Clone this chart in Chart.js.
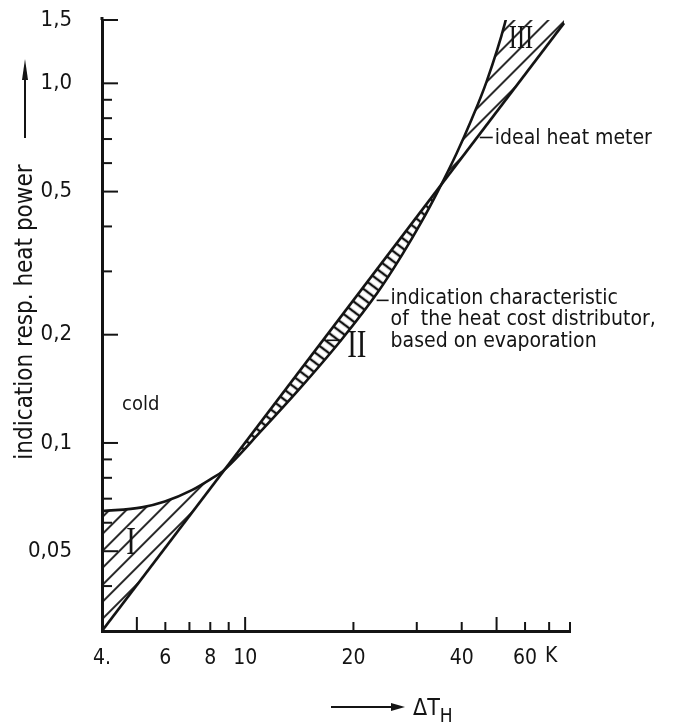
<!DOCTYPE html>
<html lang="en">
<head>
<meta charset="UTF-8">
<title>Heat cost distributor characteristic</title>
<script src="https://cdn.jsdelivr.net/npm/chart.js"></script>
<style>
  html, body { margin: 0; padding: 0; background: #fff; }
  #wrap { width: 677px; height: 726px; }
</style>
</head>
<body>
<div id="wrap"><canvas id="myChart" width="677" height="726"></canvas></div>
<script>
// indication of the evaporation distributor over the temperature difference (K)
const curveT = [4, 5.16, 5.98, 7.11, 8.08, 8.67, 11.13, 14.38, 18.57, 23.37, 27.25, 30.97, 34.3, 38.7, 42.6, 46.9, 52.7, 77];
const curveP = [0.0646, 0.0662, 0.0687, 0.0739, 0.0797, 0.0835, 0.1085, 0.1438, 0.1942, 0.2623, 0.3323, 0.413, 0.500, 0.638, 0.793, 1.011, 1.466, 8];

// ideal heat meter, a straight line on log-log paper
const idealT = [4, 77];
const idealP = [0.03, 1.47];

// axis labels and tick marks
const xTicks = [4, 6, 8, 10, 20, 40, 60];
const xTickLabels = ['4.', '6', '8', '10', '20', '40', '60'];
const xMarks = [5, 6, 7, 8, 9, 10, 20, 30, 40, 50, 60, 70, 80];
const xLongMarks = [5, 10, 50];

const yTicks = [0.05, 0.1, 0.2, 0.5, 1, 1.5];
const yTickLabels = ['0,05', '0,1', '0,2', '0,5', '1,0', '1,5'];
const yMarks = [0.04, 0.06, 0.07, 0.08, 0.09, 0.3, 0.4, 0.6, 0.7, 0.8, 0.9];

const ink = '#141414';

function hasFont(name) {
  const c = document.createElement('canvas').getContext('2d');
  const probe = 'indication 0,05 heat';
  c.font = '40px monospace';
  const a = c.measureText(probe).width;
  c.font = '40px "' + name + '", monospace';
  return c.measureText(probe).width !== a;
}
const sans = ['DejaVu Sans Condensed', 'Liberation Sans Narrow'].find(hasFont) || 'DejaVu Sans';
const serif = ['Liberation Serif', 'DejaVu Serif'].find(hasFont) || 'serif';
const sf = sans === 'DejaVu Sans' ? 0.9 : 1;
const sansFont = size => Math.round(size * sf) + 'px "' + sans + '", sans-serif';

const canvas = document.getElementById('myChart');
const ctx = canvas.getContext('2d');

// hatching: horizontal strokes on a tile, turned to the wanted angle
function hatch(angle, gap, width) {
  const tile = document.createElement('canvas');
  tile.width = 20; tile.height = gap;
  const t = tile.getContext('2d');
  t.strokeStyle = ink; t.lineWidth = width;
  t.beginPath(); t.moveTo(0, gap / 2); t.lineTo(20, gap / 2); t.stroke();
  const p = ctx.createPattern(tile, 'repeat');
  p.setTransform(new DOMMatrix().rotateSelf(angle));
  return p;
}
const hatchSlash = hatch(-45, 12, 1.8);
const hatchRung = hatch(37, 8, 2.4);

const toPoints = (xs, ys) => xs.map((v, i) => ({ x: v, y: ys[i] }));

function line(c, x1, y1, x2, y2) {
  c.beginPath(); c.moveTo(x1, y1); c.lineTo(x2, y2); c.stroke();
}

const marksAndText = {
  id: 'marksAndText',
  afterDraw(chart) {
    const c = chart.ctx;
    const { x, y } = chart.scales;
    const area = chart.chartArea;
    c.save();
    c.strokeStyle = ink;
    c.fillStyle = ink;

    // inward tick marks
    c.lineWidth = 2;
    xMarks.forEach(v => {
      const px = x.getPixelForValue(v);
      line(c, px, area.bottom, px, area.bottom - (xLongMarks.includes(v) ? 14 : 9));
    });
    yTicks.forEach(v => {
      const py = y.getPixelForValue(v);
      line(c, area.left, py, area.left + 16, py);
    });
    yMarks.forEach(v => {
      const py = y.getPixelForValue(v);
      line(c, area.left, py, area.left + 10, py);
    });
    // axis line runs a little past the top tick
    c.lineWidth = 3;
    line(c, area.left, area.top, area.left, area.top - 3);

    // unit after the last x label
    c.font = sansFont(21);
    c.textAlign = 'left';
    c.textBaseline = 'middle';
    c.fillText('K', x.getPixelForValue(60) + 20, 657);

    // x axis title with arrow
    c.lineWidth = 2;
    line(c, 331, 707, 394, 707);
    c.beginPath(); c.moveTo(405, 707); c.lineTo(391, 703); c.lineTo(391, 711); c.closePath(); c.fill();
    c.font = sansFont(23);
    c.fillText('ΔT', 413, 709);
    const w = c.measureText('ΔT').width;
    c.font = sansFont(19);
    c.fillText('H', 413 + w, 717);

    // y axis title with arrow
    c.save();
    c.translate(32, 312);
    c.rotate(-Math.PI / 2);
    c.font = sansFont(24);
    c.textAlign = 'center';
    c.textBaseline = 'alphabetic';
    c.fillText('indication resp. heat power', 0, 0);
    c.restore();
    line(c, 25, 138, 25, 76);
    c.beginPath(); c.moveTo(25, 59); c.lineTo(22, 80); c.lineTo(28, 80); c.closePath(); c.fill();

    // region label
    c.font = sansFont(20);
    c.textAlign = 'left';
    c.textBaseline = 'middle';
    c.fillText('cold', 122, 405);

    // leader for the ideal heat meter
    c.lineWidth = 1.6;
    let ax = x.getPixelForValue(44.9), ay = y.getPixelForValue(0.707);
    line(c, ax, ay, ax + 13, ay);
    c.font = sansFont(21);
    c.fillText('ideal heat meter', ax + 15, ay + 1);

    // leader for the distributor characteristic
    ax = x.getPixelForValue(23.2); ay = y.getPixelForValue(0.254);
    line(c, ax, ay + 3, ax + 12, ay + 3);
    c.font = sansFont(21);
    c.fillText('indication characteristic', ax + 14, ay + 1);
    c.fillText('of  the heat cost distributor,', ax + 14, ay + 22);
    c.fillText('based on evaporation', ax + 14, ay + 44);

    // roman numerals for the three deviation zones
    ax = x.getPixelForValue(18.57); ay = y.getPixelForValue(0.1942);
    line(c, ax - 15, ay + 1, ax, ay + 1);
    const numeral = (txt, px, py, size) => {
      c.save();
      c.translate(px, py);
      c.scale(0.72, 1);
      c.font = size + 'px "' + serif + '", serif';
      c.textAlign = 'center';
      c.textBaseline = 'middle';
      c.fillText(txt, 0, 0);
      c.restore();
    };
    numeral('I', 131, 543, 40);
    numeral('II', ax + 15, ay + 7, 40);
    numeral('III', 521, 39, 34);

    c.restore();
  }
};

// keep the plot area fixed: no extra room for half labels
const noLabelPadding = s => {
  s.paddingTop = 0; s.paddingBottom = 0; s.paddingLeft = 0; s.paddingRight = 0;
};

new Chart(canvas, {
  type: 'line',
  data: {
    datasets: [{
      label: 'heat cost distributor',
      data: toPoints(curveT, curveP),
      borderColor: ink,
      borderWidth: 2.6,
      pointRadius: 0,
      cubicInterpolationMode: 'monotone',
      fill: { target: 1, above: hatchSlash, below: hatchRung }
    }, {
      label: 'ideal heat meter',
      data: toPoints(idealT, idealP),
      borderColor: ink,
      borderWidth: 2.6,
      pointRadius: 0,
      fill: false
    }]
  },
  options: {
    responsive: false,
    animation: false,
    events: [],
    layout: { padding: { top: 20, right: 107, left: 0, bottom: 0 } },
    plugins: { legend: { display: false }, tooltip: { enabled: false } },
    scales: {
      x: {
        type: 'logarithmic',
        min: 4,
        max: 80,
        afterBuildTicks: s => { s.ticks = xTicks.map(v => ({ value: v })); },
        afterFit: s => { s.height = 95; noLabelPadding(s); },
        grid: { display: false, drawTicks: false },
        border: { display: true, color: ink, width: 3 },
        ticks: {
          autoSkip: false,
          maxRotation: 0,
          padding: 15,
          color: ink,
          font: { family: sans, size: Math.round(21 * sf) },
          callback: (v, i) => xTickLabels[i]
        }
      },
      y: {
        type: 'logarithmic',
        min: 0.03,
        max: 1.5,
        afterBuildTicks: s => { s.ticks = yTicks.map(v => ({ value: v })); },
        afterFit: s => { s.width = 102; noLabelPadding(s); },
        grid: { display: false, drawTicks: false },
        border: { display: true, color: ink, width: 3 },
        ticks: {
          autoSkip: false,
          padding: 30,
          color: ink,
          font: { family: sans, size: Math.round(22 * sf) },
          callback: (v, i) => yTickLabels[i]
        }
      }
    }
  },
  plugins: [marksAndText]
});
</script>
</body>
</html>
